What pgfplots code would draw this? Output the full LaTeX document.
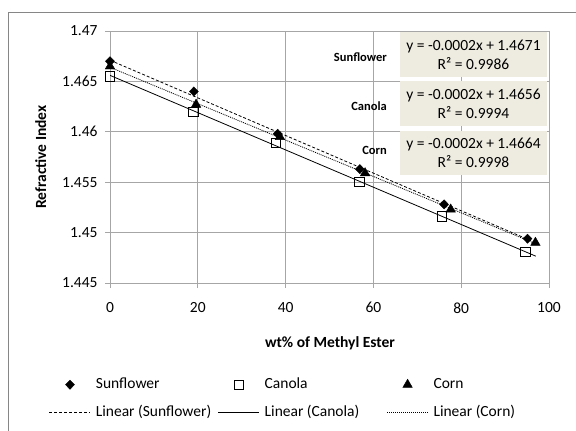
\documentclass[border=0pt]{standalone}
\usepackage{pgfplots}
\pgfplotsset{compat=1.18}
\usepackage{fontspec}
\setmainfont{Carlito}

\definecolor{gridgray}{HTML}{A6A6A6}
\definecolor{framegray}{HTML}{868686}
\definecolor{eqfill}{HTML}{EEECE1}

\pgfplotsset{
  marklegend/.style={legend image code/.code={\draw[##1] plot coordinates {(20.5bp,0bp)};}},
  linelegend/.style={legend image code/.code={\draw[##1] (0bp,0bp) -- (41bp,0bp);}},
}

% measured data: wt% of methyl ester vs refractive index
\pgfplotstableread{
x     y
0     1.4670
19.1  1.4640
38.2  1.4598
56.9  1.4563
76.1  1.4528
95.1  1.4494
}\sunflower
\pgfplotstableread{
x     y
0     1.4655
19.0  1.4620
37.8  1.4589
56.8  1.4550
75.6  1.4516
94.6  1.4481
}\canola
\pgfplotstableread{
x     y
0     1.4665
19.6  1.4627
38.7  1.4595
58.1  1.4559
77.6  1.4523
96.9  1.4490
}\corn

\begin{document}
\begin{tikzpicture}[x=1bp,y=1bp]
\useasboundingbox (0,0) rectangle (576,430);
% outer chart frame
\draw[framegray, line width=0.8bp] (8,-20) -- (8,418) -- (600,418);

\begin{axis}[
  at={(110bp,147bp)}, anchor=south west,
  scale only axis, width=439bp, height=252bp,
  xmin=0, xmax=100, ymin=1.445, ymax=1.47,
  xtick={0,20,...,100},
  ytick={1.445,1.45,1.455,1.46,1.465,1.47},
  grid=major,
  major grid style={gridgray, line width=0.8bp},
  axis line style={gridgray, line width=0.8bp},
  tick style={gridgray, line width=0.8bp},
  tick align=outside,
  major tick length=5bp,
  xtick pos=bottom, ytick pos=left,
  font=\fontsize{15.5bp}{18bp}\selectfont,
  /pgf/number format/assume math mode=true,
  yticklabel style={/pgf/number format/fixed, /pgf/number format/precision=3, xshift=-4bp},
  xticklabel style={yshift=-11bp},
  xlabel={\bfseries wt\% of Methyl Ester},
  ylabel={\bfseries Refractive Index},
  xlabel style={at={(axis description cs:0.501,-0.238)}, anchor=center},
  ylabel style={at={(axis description cs:-0.158,0.5)}, anchor=center, rotate=0},
  legend columns=3,
  legend style={
    at={(axis description cs:-0.146,-0.365)}, anchor=north west,
    draw=none, fill=none,
    font=\fontsize{15.5bp}{18bp}\selectfont,
    cells={anchor=west},
    nodes={text width=117bp, align=flush left, text height=11bp, text depth=4bp, inner sep=0pt},
    /tikz/column sep=5bp,
    /tikz/row sep=13bp,
  },
]
\addplot[only marks, mark=diamond*, mark size=4.6bp, mark options={fill=black, draw=black, xscale=1.3}, marklegend]
  table {\sunflower};
\addlegendentry{Sunflower}
\addplot[only marks, mark=square, mark size=4.6bp, mark options={draw=black, fill=white, line width=0.8bp}, marklegend]
  table {\canola};
\addlegendentry{Canola}
\addplot[only marks, mark=triangle*, mark size=5.5bp, mark options={fill=black, draw=black}, marklegend]
  table {\corn};
\addlegendentry{Corn}

% least-squares trendlines
\addplot[black, line width=0.8bp, dash pattern=on 3bp off 2bp, linelegend]
  coordinates {(0,1.4671) (97,1.44899)};
\addlegendentry{\mbox{Linear (Sunflower)}}
\addplot[black, line width=0.8bp, linelegend]
  coordinates {(0,1.4656) (97,1.44766)};
\addlegendentry{\mbox{Linear (Canola)}}
\addplot[black, line width=0.8bp, dash pattern=on 1bp off 1bp, linelegend]
  coordinates {(0,1.4664) (97,1.44889)};
\addlegendentry{\mbox{Linear (Corn)}}
\end{axis}

% trendline equations
\begin{scope}[font=\fontsize{15.5bp}{18bp}\selectfont]
  \fill[eqfill] (400,398) rectangle (547,353);
  \node[align=center, inner sep=0pt] at (473.5,375.5) {y = -0.0002x + 1.4671\\[1bp] R² = 0.9986};
  \fill[eqfill] (400,349) rectangle (547,304);
  \node[align=center, inner sep=0pt] at (473.5,326.5) {y = -0.0002x + 1.4656\\[1bp] R² = 0.9994};
  \fill[eqfill] (400,299) rectangle (547,255);
  \node[align=center, inner sep=0pt] at (473.5,277) {y = -0.0002x + 1.4664\\[1bp] R² = 0.9998};
\end{scope}
\begin{scope}[font=\fontsize{12.5bp}{14bp}\selectfont\bfseries]
  \node[anchor=east, inner sep=0pt] at (387,373) {Sunflower};
  \node[anchor=east, inner sep=0pt] at (387,324) {Canola};
  \node[anchor=east, inner sep=0pt] at (387,280) {Corn};
\end{scope}
\end{tikzpicture}
\end{document}
